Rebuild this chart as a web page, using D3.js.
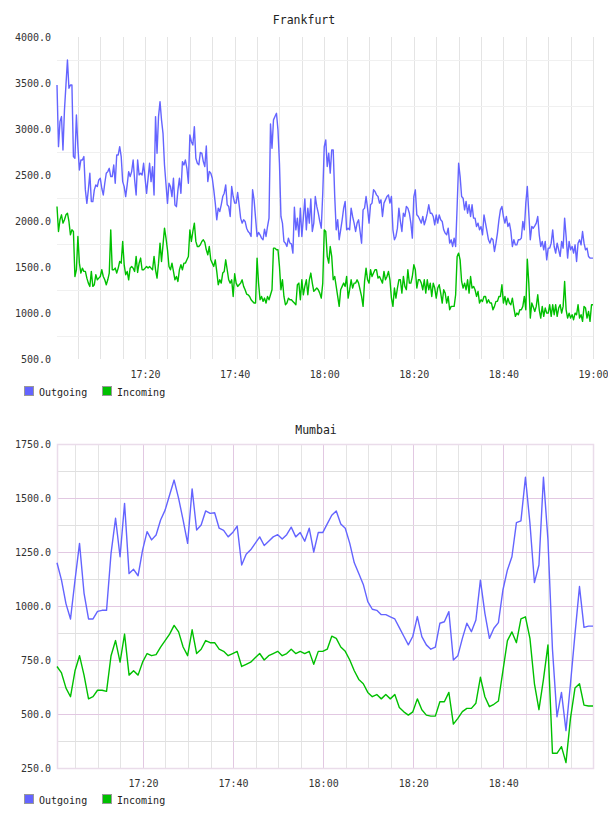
<!DOCTYPE html>
<html>
<head>
<meta charset="utf-8">
<script src="https://cdn.jsdelivr.net/npm/d3@7"></script>
<style>
  body { margin: 0; background: #fff; }
  svg { display: block; font-family: "DejaVu Sans Mono", monospace; }
</style>
</head>
<body>
<div id="chart"></div>
<script>
// Frankfurt: one sample every 20 s from 17:00:20
const frankStart = Date.UTC(2020, 0, 1, 17, 0, 20);
const frankStep = 20 * 1000;
const frankOut = [
  3479, 2808, 3080, 3135, 2772, 3207, 3480, 3750, 3443, 3479, 3479, 2700, 2682, 3153, 2808, 2555, 2663, 2663, 2700, 2338,
  2192, 2338, 2519, 2211, 2211, 2338, 2392, 2374, 2446, 2464, 2356, 2283, 2410, 2519, 2537, 2573, 2483, 2483, 2609, 2410,
  2718, 2718, 2808, 2700, 2428, 2374, 2265, 2392, 2537, 2483, 2537, 2663, 2446, 2283, 2663, 2501, 2519, 2501, 2627, 2464,
  2301, 2464, 2627, 2428, 2591, 2283, 3135, 2736, 3135, 3297, 3100, 2953, 2609, 2400, 2192, 2410, 2374, 2265, 2464, 2174,
  2156, 2338, 2464, 2301, 2645, 2609, 2663, 2573, 2410, 2935, 2862, 2826, 3026,
  2682, 2628, 2610, 2744, 2737, 2646, 2592, 2816, 2429, 2538, 2520, 2465, 2339, 2194, 2013, 2140, 2103, 2176, 2266, 2302,
  2393, 2176, 2158, 2049, 2375, 2266, 2194, 2194, 2310, 2176, 2031, 1977, 2013, 1995, 1922, 1886, 1868, 1832, 2339, 2230,
  2031, 1832, 1875, 1850, 1814, 1796, 1911, 1832, 1940, 2031, 3055, 2791, 3099, 3135, 3171, 2990, 2628, 2049, 1977, 1777,
  1759, 1723, 1814, 1759, 1752, 1651, 2150, 1904, 2031, 1832, 2140, 1832, 2031, 2241, 1904, 2140, 1977, 2241, 1886, 1977,
  2266, 2158, 2085, 1995, 1922, 2302, 2809, 2882, 2592, 2737,
  2520, 2773, 2773, 2273, 1904, 2013, 1796, 1904, 2013, 2140, 2212, 1904, 1922, 1904, 2140, 2049, 1977, 1886, 1977, 2013,
  1886, 1759, 2121, 2140, 2266, 2140, 1977, 2176, 2194, 2339, 2321, 2284, 2266, 2194, 2230, 2049, 2194, 2230, 2266, 2284,
  2194, 2266, 1904, 1796, 1832, 1922, 2140, 1995, 1886, 2085, 2049, 2158, 2140, 2085, 1977, 1814, 2266, 2339, 2067, 2049,
  2013, 1977, 2049, 1959, 2013, 2085, 2176, 2085, 2085, 2049, 1959, 2067, 1977, 2067, 2013, 1995, 1904, 1868, 1850, 1922,
  1759, 1796, 1723, 1814, 1723, 2158, 2628, 2483, 2266, 2248,
  2121, 2212, 2085, 2176, 2049, 2176, 2031, 2031, 1940, 1977, 1904, 1940, 1850, 2067, 1977, 1886, 1796, 1759, 1814, 1796,
  1669, 1759, 1868, 2013, 2121, 2158, 2049, 1977, 2049, 1940, 1977, 1886, 1723, 1796, 1741, 1741, 1796, 1796, 1814, 1995,
  1904, 2194, 2375, 2085, 1796, 1940, 1922, 1948, 1977, 2049, 1850, 1723, 1778, 1687, 1778, 1578, 1705, 1705, 1759, 1904,
  1723, 1651, 1759, 1687, 1615, 1778, 1705, 2031, 1832, 1597, 1778, 1687, 1723, 1651, 1741, 1560, 1759, 1796, 1741, 1886,
  1759, 1687, 1705, 1615, 1597, 1597, 1597
];
const frankIn = [
  2158, 1886, 2013, 2067, 1977, 2013, 2067, 2085, 1995, 1850, 1904, 1886, 1397, 1470, 1832, 1542, 1434, 1488, 1452, 1452,
  1379, 1325, 1289, 1452, 1289, 1307, 1416, 1361, 1379, 1397, 1470, 1397, 1361, 1307, 1361, 1434, 1904, 1470, 1470, 1488,
  1434, 1488, 1560, 1542, 1778, 1524, 1416, 1452, 1361, 1488, 1506, 1488, 1452, 1615, 1441, 1542, 1597, 1470, 1470, 1488,
  1506, 1488, 1506, 1488, 1470, 1615, 1470, 1379, 1542, 1759, 1560, 1741, 1922, 1814, 1687, 1506, 1470, 1542, 1452, 1361,
  1397, 1343, 1470, 1524, 1470, 1542, 1542, 1578, 1615, 1904, 1778, 1886, 1977,
  1778, 1723, 1723, 1741, 1778, 1796, 1767, 1687, 1633, 1723, 1578, 1542, 1506, 1578, 1452, 1307, 1361, 1325, 1434, 1452,
  1578, 1470, 1361, 1325, 1361, 1180, 1426, 1325, 1289, 1307, 1325, 1361, 1289, 1253, 1206, 1198, 1180, 1144, 1126, 1108,
  1108, 1597, 1325, 1144, 1180, 1126, 1162, 1108, 1180, 1144, 1198, 1253, 1705, 1705, 1687, 1687, 1506, 1253, 1361, 1180,
  1090, 1108, 1162, 1144, 1144, 1126, 1108, 1090, 1307, 1325, 1144, 1361, 1198, 1289, 1361, 1198, 1361, 1434, 1325, 1235,
  1253, 1271, 1253, 1216, 1162, 1325, 1904, 1886, 1615, 1542,
  1723, 1615, 1361, 1397, 1289, 1180, 1072, 1253, 1289, 1325, 1289, 1397, 1162, 1253, 1361, 1271, 1325, 1325, 1361, 1325,
  1253, 1180, 1072, 1343, 1488, 1361, 1325, 1470, 1397, 1434, 1470, 1470, 1379, 1397, 1361, 1325, 1452, 1361, 1397, 1452,
  1361, 1162, 1072, 1271, 1162, 1271, 1361, 1361, 1216, 1397, 1289, 1253, 1470, 1325, 1325, 1397, 1524, 1470, 1271, 1361,
  1361, 1325, 1253, 1361, 1216, 1361, 1253, 1325, 1180, 1325, 1271, 1162, 1271, 1307, 1216, 1108, 1253, 1216, 1108, 1180,
  1035, 1072, 1072, 1072, 1198, 1615, 1651, 1578, 1343, 1271,
  1325, 1253, 1361, 1216, 1397, 1271, 1289, 1253, 1180, 1235, 1108, 1144, 1126, 1180, 1180, 1108, 1144, 1108, 1108, 1035,
  1072, 1126, 1126, 1180, 1180, 1307, 1108, 1180, 1090, 1162, 1108, 1090, 1162, 1054, 963, 999, 981, 1035, 1035, 1072,
  1180, 1035, 1586, 1325, 945, 1108, 1064, 1017, 1072, 1198, 1035, 945, 1072, 963, 1054, 999, 999, 1090, 963, 1090,
  981, 1090, 963, 1054, 1090, 999, 1072, 1343, 1035, 945, 999, 945, 981, 927, 999, 981, 1090, 945, 981, 909,
  1072, 1054, 945, 1017, 909, 1090, 1090
];
const frankTicks = [4000, 3500, 3000, 2500, 2000, 1500, 1000, 500];

// Mumbai: one sample per minute from 17:00:55
const mumStart = Date.UTC(2020, 0, 1, 17, 0, 55);
const mumStep = 60 * 1000;
const mumOut = [
  1200, 1120, 1010, 940, 1120, 1290, 1060, 940, 940, 975,
  980, 980, 1244, 1406, 1228, 1475, 1150, 1170, 1140, 1259,
  1344, 1306, 1329, 1398, 1444, 1514, 1583, 1498, 1398, 1290,
  1542, 1352, 1375, 1440, 1429, 1432, 1360, 1350, 1320, 1340,
  1370, 1190, 1240, 1260, 1290, 1320, 1280, 1300, 1320, 1330,
  1310, 1330, 1365, 1320, 1340, 1300, 1360, 1250, 1340, 1340,
  1380, 1420, 1440, 1380, 1360, 1290, 1200, 1150, 1100, 1020,
  985, 980, 960, 960, 950, 940, 900, 860, 820, 860,
  951, 858, 820, 800, 810, 920, 927, 974, 750, 770,
  850, 920, 881, 935, 1120, 966, 850, 897, 923, 1074,
  1167, 1228, 1386, 1394, 1596, 1383, 1108, 1190, 1596, 1306,
  800, 487, 600, 423, 640, 870, 1090, 901, 907, 907
];
const mumIn = [
  720, 690, 620, 580, 700, 770, 680, 570, 580, 610,
  610, 605, 770, 840, 740, 870, 680, 700, 680, 740,
  780, 770, 775, 810, 840, 870, 910, 880, 810, 770,
  890, 780, 800, 840, 830, 830, 800, 790, 770, 780,
  790, 720, 730, 740, 760, 780, 750, 770, 780, 790,
  770, 780, 800, 780, 790, 780, 790, 730, 790, 790,
  800, 860, 850, 810, 790, 750, 700, 660, 640, 600,
  580, 590, 570, 590, 570, 590, 530, 510, 495, 510,
  570, 520, 495, 490, 490, 557, 557, 600, 453, 480,
  511, 526, 526, 550, 670, 580, 534, 545, 560, 700,
  840, 880, 830, 940, 950, 850, 640, 520, 660, 820,
  318, 318, 349, 275, 480, 620, 640, 541, 537, 537
];
const mumTicks = [1750, 1500, 1250, 1000, 750, 500, 250];

const seriesNames = ["Outgoing", "Incoming"];
const seriesColors = ["#6464ff", "#00c000"];

const svg = d3.select("#chart").append("svg")
  .attr("width", 608)
  .attr("height", 816);

function drawPanel(p) {
  const g = svg.append("g");
  const x = d3.scaleUtc()
    .domain([p.start, p.end])
    .range([p.left, p.right]);
  const y = d3.scaleLinear()
    .domain(p.yDomain)
    .range([p.bottom, p.top]);

  // title
  g.append("text")
    .attr("x", p.titleX)
    .attr("y", p.titleY)
    .attr("text-anchor", "middle")
    .attr("font-size", "11.5px")
    .attr("fill", "#222")
    .text(p.title);

  // vertical grid, every 5 minutes
  const minor = x.ticks(d3.utcMinute.every(5));
  g.append("g").selectAll("line")
    .data(minor)
    .join("line")
    .attr("x1", d => Math.round(x(d)) + 0.5)
    .attr("x2", d => Math.round(x(d)) + 0.5)
    .attr("y1", p.top)
    .attr("y2", p.bottom)
    .attr("stroke", d => p.bordered && d.getUTCMinutes() % 20 === 0 ? "#e2c8e2" : "#e4e4e4");

  // horizontal grid
  g.append("g").selectAll("line")
    .data(p.hGrid)
    .join("line")
    .attr("x1", p.left)
    .attr("x2", p.right)
    .attr("y1", d => Math.round(y(d)) + 0.5)
    .attr("y2", d => Math.round(y(d)) + 0.5)
    .attr("stroke", d => p.bordered && p.yTicks.includes(d) ? "#e2c8e2" : (p.bordered ? "#e0e0e0" : "#f0f0f0"));

  if (p.bordered) {
    g.append("rect")
      .attr("x", p.left + 0.5)
      .attr("y", p.top + 0.5)
      .attr("width", p.right - p.left)
      .attr("height", p.bottom - p.top)
      .attr("fill", "none")
      .attr("stroke", "#eadcea")
      .attr("stroke-width", 1.5);
  }

  // series
  const line = d3.line()
    .x((d, i) => x(p.start + i * p.step))
    .y(d => y(d));
  p.series.forEach((vals, k) => {
    g.append("path")
      .datum(vals)
      .attr("fill", "none")
      .attr("stroke", seriesColors[k])
      .attr("stroke-width", 1.4)
      .attr("stroke-linejoin", "round")
      .attr("d", line);
  });

  // y axis labels
  const yAxis = g.append("g")
    .attr("transform", `translate(${p.left - 6},0)`)
    .call(d3.axisLeft(y).tickValues(p.yTicks).tickSize(0).tickPadding(0).tickFormat(d3.format(".1f")));
  yAxis.select(".domain").remove();
  yAxis.selectAll("text")
    .attr("font-family", "DejaVu Sans Mono, monospace")
    .attr("font-size", "10px")
    .attr("fill", "#333");

  // x axis labels
  const xAxis = g.append("g")
    .attr("transform", `translate(0,${p.bottom})`)
    .call(d3.axisBottom(x).ticks(d3.utcMinute.every(20)).tickSize(0).tickPadding(12)
      .tickFormat(d3.utcFormat("%H:%M")));
  xAxis.select(".domain").remove();
  xAxis.selectAll("text")
    .attr("font-family", "DejaVu Sans Mono, monospace")
    .attr("font-size", "10px")
    .attr("fill", "#333");

  // legend
  const lg = g.append("g");
  const lx = [24, 102];
  seriesNames.forEach((name, k) => {
    lg.append("rect")
      .attr("x", lx[k] + 0.5)
      .attr("y", p.legendY - 9.5)
      .attr("width", 9)
      .attr("height", 9)
      .attr("fill", seriesColors[k])
      .attr("stroke", "#999");
    lg.append("text")
      .attr("x", lx[k] + 15)
      .attr("y", p.legendY)
      .attr("font-size", "10px")
      .attr("fill", "#222")
      .text(name);
  });
}

drawPanel({
  title: "Frankfurt",
  titleX: 304,
  titleY: 24,
  top: 37, bottom: 359, left: 57, right: 593,
  start: frankStart,
  end: frankStart + (frankOut.length - 1) * frankStep,
  step: frankStep,
  yDomain: [500, 4000],
  yTicks: frankTicks,
  hGrid: [3750, 3250, 2750, 2250, 1750, 1250, 750],
  series: [frankOut, frankIn],
  bordered: false,
  legendY: 396
});

drawPanel({
  title: "Mumbai",
  titleX: 316,
  titleY: 434,
  top: 444, bottom: 768, left: 57, right: 593,
  start: mumStart,
  end: mumStart + (mumOut.length - 1) * mumStep,
  step: mumStep,
  yDomain: [250, 1750],
  yTicks: mumTicks,
  hGrid: d3.range(375, 1750, 125),
  series: [mumOut, mumIn],
  bordered: true,
  legendY: 804
});
</script>
</body>
</html>
